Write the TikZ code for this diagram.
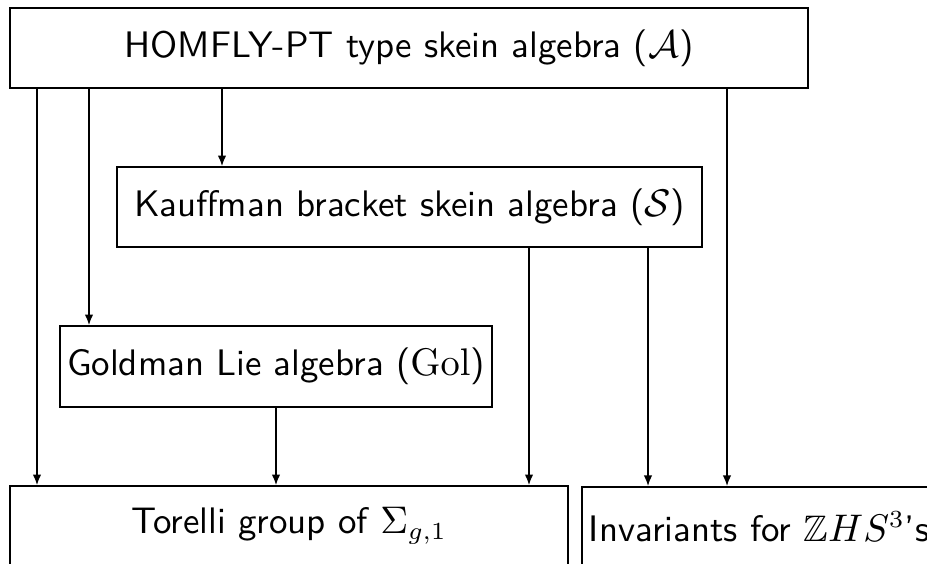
\documentclass[tikz,border=0pt]{standalone}
\usepackage{amsmath, amssymb}
\usepackage{tikz}
\usetikzlibrary{arrows.meta, calc, positioning}

\tikzset{
  skeinbox/.style={draw, line width=0.5pt, minimum height=0.8cm, inner sep=2pt,
    font=\sffamily\fontsize{10.5}{12.5}\selectfont},
  link/.style={->, line width=0.4pt},
}

\begin{document}
\begin{tikzpicture}[>={Latex[length=3pt,width=2.4pt]}]
    \useasboundingbox (0,0) rectangle (9.27,-5.64);

    % boxes
    \node[skeinbox, minimum width=7.98cm] (A) at (4.09,-0.48) {HOMFLY-PT type skein algebra ($\mathcal{A}$)};
    \node[skeinbox, minimum width=5.85cm] (S) at (4.095,-2.07) {Kauffman bracket skein algebra ($\mathcal{S}$)};
    \node[skeinbox, minimum width=4.27cm, minimum height=0.81cm] (Gol) at (2.76,-3.665) {Goldman Lie algebra ($\mathrm{Gol}$)};
    \node[skeinbox, minimum width=5.58cm] (T) at (2.89,-5.26) {Torelli group of $\Sigma_{g,1}$};
    \node[skeinbox, anchor=north west] (I) at (5.81,-4.86) {Invariants for $\mathbb{Z}HS^3$'s};

    % columns of the arrows
    \coordinate (xa) at (0.37,0);
    \coordinate (xb) at (0.89,0);
    \coordinate (xc) at (2.22,0);
    \coordinate (xd) at (5.29,0);
    \coordinate (xe) at (6.48,0);
    \coordinate (xf) at (7.27,0);

    % arrows
    \draw[link] (A.south -| xa) -- (T.north -| xa);
    \draw[link] (A.south -| xb) -- (Gol.north -| xb);
    \draw[link] (A.south -| xc) -- (S.north -| xc);
    \draw[link] (A.south -| xf) -- (I.north -| xf);
    \draw[link] (S.south -| xd) -- (T.north -| xd);
    \draw[link] (S.south -| xe) -- (I.north -| xe);
    \draw[link] (Gol) -- (T.north -| Gol);
\end{tikzpicture}
\end{document}
